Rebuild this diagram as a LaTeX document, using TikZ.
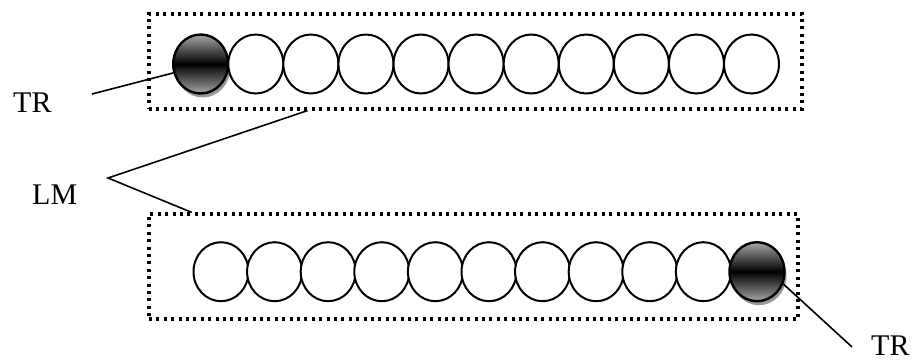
\documentclass[tikz,border=0pt]{standalone}
\usepackage{fontspec}
\setmainfont{Liberation Serif}
\usetikzlibrary{shapes.geometric,calc,shadows}
\begin{document}
\begin{tikzpicture}[x=1pt,y=-1pt,
  lbl/.style={font=\fontsize{30}{36}\selectfont,inner sep=0pt,anchor=base west},
  grp/.style={draw,line width=3.2pt,dash pattern=on 3pt off 4.4pt,rectangle,inner sep=0pt},
  bead/.style={draw,line width=2pt,ellipse,inner sep=0pt,minimum width=55pt,minimum height=59pt,fill=white},
  dark/.style={bead,line width=2.4pt,top color=gray!70,bottom color=gray!70,middle color=black,
     drop shadow={shadow xshift=2pt,shadow yshift=-4pt,fill=gray!80,opacity=1}},
  wire/.style={line width=1.6pt}]
\useasboundingbox (0,0) rectangle (914,360);
% boxes
\node[grp,minimum width=653pt,minimum height=95pt] (topbox) at (475.5,61.5) {};
\node[grp,minimum width=649pt,minimum height=105pt] (botbox) at (473.5,266.5) {};
% top row
\node[dark] (t1) at (200.7,64) {};
\foreach \i in {2,...,11}{
  \node[bead] (t\i) at ({200.7+55.08*(\i-1)},64) {};
}
% bottom row
\foreach \i in {1,...,10}{
  \node[bead] (b\i) at ({221+53.6*(\i-1)},271.7) {};
}
\node[dark] (b11) at (757,271.7) {};
% labels
\node[lbl] (tr1) at (13,112) {TR};
\node[lbl] (lm) at (32,204) {LM};
\node[lbl] (tr2) at (871,355) {TR};
% connectors
\coordinate (trA) at (92,94);
\draw[wire] (trA) -- (t1.198);
\coordinate (lmV) at (108,178);
\draw[wire] ($(topbox.south west)!0.244!(topbox.south east)$) -- (lmV)
   -- ($(botbox.north west)!0.068!(botbox.north east)$);
\coordinate (trB) at (852,347);
\draw[wire] (b11.335) -- (trB);
\end{tikzpicture}
\end{document}
